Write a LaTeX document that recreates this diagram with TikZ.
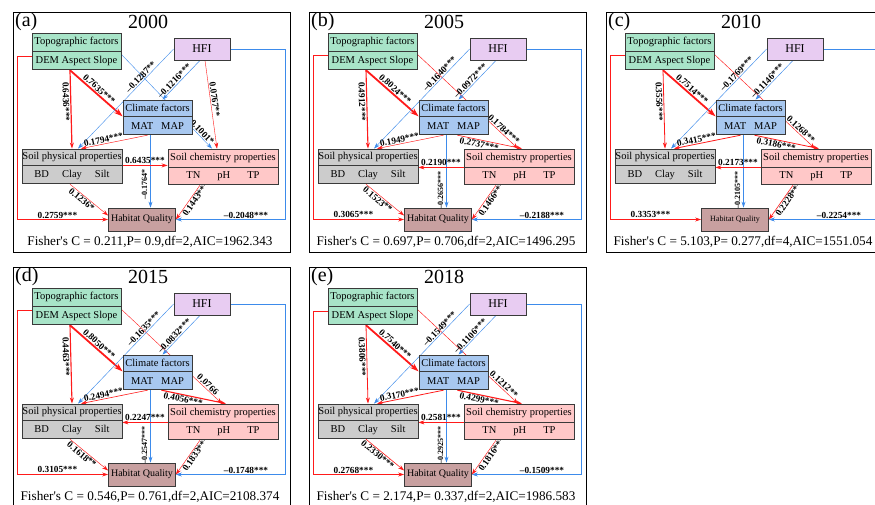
\documentclass[tikz,border=0pt]{standalone}
\usepackage{fontspec}
\setmainfont{Liberation Serif}
\usetikzlibrary{arrows.meta,calc,backgrounds}

\definecolor{topoc}{HTML}{A8E4C8}
\definecolor{hfic}{HTML}{E8CCF2}
\definecolor{climc}{HTML}{A8C8F0}
\definecolor{physc}{HTML}{CCCCCC}
\definecolor{chemc}{HTML}{FFC8C8}
\definecolor{hqc}{HTML}{C8A0A0}
\definecolor{posc}{HTML}{FF1A1A}
\definecolor{negc}{HTML}{3D8BEB}
\definecolor{boxline}{HTML}{3A3A3A}

% the six boxes of one SEM panel, #1 = font size of Habitat Quality
\newcommand{\semboxes}[1]{%
\node[headbox,fill=topoc,minimum width=89pt] (topoh) at (63.5,30) {Topographic factors};
\node[varbox,fill=topoc,minimum width=89pt,anchor=north] (topov) at (topoh.south) {DEM Aspect Slope};
\node[headbox,fill=hfic,minimum width=56pt,minimum height=22pt,font=\fontsize{12}{14}\selectfont] (hfi) at (189,37) {HFI};
\node[headbox,fill=climc,minimum width=69pt,minimum height=16pt] (climh) at (144.5,96) {Climate factors};
\node[varbox,fill=climc,minimum width=69pt,anchor=north] (climv) at (climh.south) {MAT\hspace{8pt}MAP};
\node[headbox,fill=physc,minimum width=100pt,minimum height=16pt] (physh) at (59,145) {Soil physical properties};
\node[varbox,fill=physc,minimum width=100pt,anchor=north] (physv) at (physh.south) {BD\hspace{13pt}Clay\hspace{13pt}Silt};
\node[headbox,fill=chemc,minimum width=110pt] (chemh) at (210,146) {Soil chemistry properties};
\node[varbox,fill=chemc,minimum width=110pt,minimum height=17pt,anchor=north] (chemv) at (chemh.south) {TN\hspace{17pt}pH\hspace{17pt}TP};
\node[headbox,fill=hqc,minimum width=67pt,minimum height=23pt,font=\fontsize{#1}{#1}\selectfont] (hq) at (129,207.5) {Habitat Quality};
}

\begin{document}
\begin{tikzpicture}[x=1pt,y=-1pt,>={Stealth[length=6pt,width=4pt]},
  headbox/.style={draw=boxline,line width=0.8pt,inner sep=0pt,minimum height=18pt,font=\fontsize{10.5}{12}\selectfont},
  varbox/.style={headbox,minimum height=18pt},
  panelframe/.style={draw=black,line width=1pt},
  paneltag/.style={anchor=west,inner sep=0pt,font=\fontsize{20}{22}\selectfont},
  yeartext/.style={font=\fontsize{20}{22}\selectfont},
  fishertext/.style={font=\fontsize{13.2}{15}\selectfont},
  lbl/.style={font=\bfseries\fontsize{9.3}{10}\selectfont,inner sep=1pt},
  vlbl/.style={lbl,font=\bfseries\fontsize{8}{9}\selectfont,rotate=90,anchor=south,inner sep=3pt},
  posarr/.style={->,draw=posc,line width=#1}, posarr/.default=0.6pt,
  negarr/.style={->,draw=negc,line width=#1}, negarr/.default=0.6pt,
  bigarr/.style={->,>={Stealth[length=9pt,width=6pt]},draw=posc,line width=1.8pt}]
\useasboundingbox (0,0) rectangle (875,504);
\begin{scope}[on background layer]
\fill[white] (0,0) rectangle (875,504);
\end{scope}

% (a) 2000
\begin{scope}[shift={(13,12)},name prefix=a-]
\draw[panelframe] (0,0) rectangle (277,240);
\node[paneltag] (tag) at (2,10) {(a)};
\node[yeartext] (year) at (135,10) {2000};
\semboxes{10}
\node[fishertext] (fisher) at (137,230) {Fisher\textquotesingle s C = 0.211,P= 0.9,df=2,AIC=1962.343};
\begin{scope}[on background layer]
\draw[bigarr] ([xshift=-6.5pt]topov.south) -- node[lbl,sloped,above,pos=0.49] {0.7635***} (climh.south west);
\draw[posarr=1.2pt] ([xshift=-6.5pt]topov.south) -- node[lbl,sloped,below,pos=0.4] {0.6436***} (physh.north);
\draw[posarr=0.6pt] ([yshift=5pt]topov.west) -- ++(-14,0) |- node[lbl,above,pos=0.72] {0.2759***} (hq.west);
\draw[negarr=0.4pt] ([yshift=-3pt]topov.north east) -- node[lbl,sloped,above,pos=0.84] {--0.1001*} ([xshift=-11pt]chemh.north);
\draw[negarr=0.5pt] ([xshift=-2pt]hfi.south) -- node[lbl,sloped,above,pos=0.6] {--0.1216***} ([xshift=5pt]climh.north);
\draw[negarr=0.4pt] (hfi.west) -- node[lbl,sloped,above,pos=0.31] {--0.1287**} ([xshift=6pt]physh.north);
\draw[posarr=0.4pt] ([xshift=3pt]hfi.south) -- node[lbl,sloped,above,pos=0.45] {0.0767**} ([xshift=-6pt]chemh.north);
\draw[negarr=0.6pt] (hfi.east) -- ++(55,0) |- node[lbl,above,pos=0.68] {--0.2048***} (hq.east);
\draw[posarr=0.45pt] ([xshift=-10pt]climv.south) -- node[lbl,sloped,above,pos=0.65] {0.1794***} ([xshift=9pt]physh.north);
\draw[negarr=0.45pt] ($(climv.south)+(-7,0)$) -- node[vlbl,pos=0.68] {--0.1764*} ($(climv.south|-hq.north)+(-7,0)$);
\draw[posarr=1.2pt] (physh.south east) -- node[lbl,above] {0.6435***} (physh.south east-|chemh.west);
\draw[posarr=0.4pt] ([xshift=-2pt]physv.south) -- node[lbl,sloped,below,pos=0.38] {0.1236*} ([yshift=4pt]hq.west);
\draw[posarr=0.45pt] ([xshift=-23pt]chemv.south) -- node[lbl,sloped,below,pos=0.33] {0.1443***} (hq.east);
\end{scope}
\end{scope}

% (b) 2005
\begin{scope}[shift={(309,12)},name prefix=b-]
\draw[panelframe] (0,0) rectangle (277,240);
\node[paneltag] (tag) at (2,10) {(b)};
\node[yeartext] (year) at (135,10) {2005};
\semboxes{10}
\node[fishertext] (fisher) at (137,230) {Fisher\textquotesingle s C = 0.697,P= 0.706,df=2,AIC=1496.295};
\begin{scope}[on background layer]
\draw[bigarr] ([xshift=-6.5pt]topov.south) -- node[lbl,sloped,above,pos=0.49] {0.8024***} (climh.south west);
\draw[posarr=1.1pt] ([xshift=-6.5pt]topov.south) -- node[lbl,sloped,below,pos=0.4] {0.4912***} (physh.north);
\draw[posarr=0.8pt] ([yshift=5pt]topov.west) -- ++(-14,0) |- node[lbl,above,pos=0.72] {0.3065***} (hq.west);
\draw[posarr=0.45pt] ([yshift=-3pt]topov.north east) -- node[lbl,sloped,above,pos=0.83] {0.1784***} ([xshift=-1pt]chemh.north);
\draw[negarr=0.45pt] ([xshift=-2pt]hfi.south) -- node[lbl,sloped,above,pos=0.6] {--0.0972***} ([xshift=5pt]climh.north);
\draw[negarr=0.45pt] (hfi.west) -- node[lbl,sloped,above,pos=0.28] {--0.1640***} ([xshift=6pt]physh.north);
\draw[negarr=0.6pt] (hfi.east) -- ++(55,0) |- node[lbl,above,pos=0.68] {--0.2188***} (hq.east);
\draw[posarr=0.45pt] ([xshift=-10pt]climv.south) -- node[lbl,sloped,above,pos=0.65] {0.1949***} ([xshift=9pt]physh.north);
\draw[posarr=0.6pt] ([xshift=4pt]climv.south) -- node[lbl,sloped,below,pos=0.35] {0.2737***} ([xshift=3pt]chemh.north);
\draw[negarr=0.6pt] ($(climv.south)+(-7,0)$) -- node[vlbl,pos=0.76] {--0.2656***} ($(climv.south|-hq.north)+(-7,0)$);
\draw[posarr=0.6pt] (chemh.south west) -- node[lbl,above] {0.2190***} (chemh.south west-|physh.east);
\draw[posarr=0.45pt] ([xshift=-2pt]physv.south) -- node[lbl,sloped,below,pos=0.38] {0.1523**} ([yshift=4pt]hq.west);
\draw[posarr=0.45pt] ([xshift=-23pt]chemv.south) -- node[lbl,sloped,below,pos=0.33] {0.1466***} (hq.east);
\end{scope}
\end{scope}

% (c) 2010
\begin{scope}[shift={(606,12)},name prefix=c-]
\draw[panelframe] (0,0) rectangle (277,240);
\node[paneltag] (tag) at (2,10) {(c)};
\node[yeartext] (year) at (135,10) {2010};
\semboxes{8}
\node[fishertext] (fisher) at (137,230) {Fisher\textquotesingle s C = 5.103,P= 0.277,df=4,AIC=1551.054};
\begin{scope}[on background layer]
\draw[bigarr] ([xshift=-6.5pt]topov.south) -- node[lbl,sloped,above,pos=0.49] {0.7514***} (climh.south west);
\draw[posarr=0.8pt] ([xshift=-6.5pt]topov.south) -- node[lbl,sloped,below,pos=0.4] {0.3556***} (physh.north);
\draw[posarr=0.8pt] ([yshift=5pt]topov.west) -- ++(-14,0) |- node[lbl,above,pos=0.72] {0.3353***} (hq.west);
\draw[posarr=0.45pt] ([yshift=-3pt]topov.north east) -- node[lbl,sloped,above,pos=0.83] {0.1268**} ([xshift=-1pt]chemh.north);
\draw[negarr=0.45pt] ([xshift=-2pt]hfi.south) -- node[lbl,sloped,above,pos=0.6] {--0.1146***} ([xshift=5pt]climh.north);
\draw[negarr=0.45pt] (hfi.west) -- node[lbl,sloped,above,pos=0.28] {--0.1769***} ([xshift=6pt]physh.north);
\draw[negarr=0.6pt] (hfi.east) -- ++(55,0) |- node[lbl,above,pos=0.68] {--0.2254***} (hq.east);
\draw[posarr=0.8pt] ([xshift=-10pt]climv.south) -- node[lbl,sloped,above,pos=0.65] {0.3415***} ([xshift=9pt]physh.north);
\draw[posarr=0.8pt] ([xshift=4pt]climv.south) -- node[lbl,sloped,below,pos=0.35] {0.3186***} ([xshift=3pt]chemh.north);
\draw[negarr=0.6pt] ($(climv.south)+(-7,0)$) -- node[vlbl,pos=0.76] {--0.2105***} ($(climv.south|-hq.north)+(-7,0)$);
\draw[posarr=0.6pt] (chemh.south west) -- node[lbl,above] {0.2173***} (chemh.south west-|physh.east);
\draw[posarr=0.6pt] ([xshift=-23pt]chemv.south) -- node[lbl,sloped,below,pos=0.33] {0.2228***} (hq.east);
\end{scope}
\end{scope}

% (d) 2015
\begin{scope}[shift={(13,267)},name prefix=d-]
\draw[panelframe] (0,0) rectangle (277,240);
\node[paneltag] (tag) at (2,10) {(d)};
\node[yeartext] (year) at (135,10) {2015};
\semboxes{10}
\node[fishertext] (fisher) at (137,230) {Fisher\textquotesingle s C = 0.546,P= 0.761,df=2,AIC=2108.374};
\begin{scope}[on background layer]
\draw[bigarr] ([xshift=-6.5pt]topov.south) -- node[lbl,sloped,above,pos=0.49] {0.8050***} (climh.south west);
\draw[posarr=1.1pt] ([xshift=-6.5pt]topov.south) -- node[lbl,sloped,below,pos=0.4] {0.4463***} (physh.north);
\draw[posarr=0.8pt] ([yshift=5pt]topov.west) -- ++(-14,0) |- node[lbl,above,pos=0.72] {0.3105***} (hq.west);
\draw[posarr=0.4pt] ([yshift=-3pt]topov.north east) -- node[lbl,sloped,above,pos=0.83] {0.0766} ([xshift=-1pt]chemh.north);
\draw[negarr=0.45pt] ([xshift=-2pt]hfi.south) -- node[lbl,sloped,above,pos=0.6] {--0.0832***} ([xshift=5pt]climh.north);
\draw[negarr=0.45pt] (hfi.west) -- node[lbl,sloped,above,pos=0.28] {--0.1635***} ([xshift=6pt]physh.north);
\draw[negarr=0.45pt] (hfi.east) -- ++(55,0) |- node[lbl,above,pos=0.68] {--0.1748***} (hq.east);
\draw[posarr=0.6pt] ([xshift=-10pt]climv.south) -- node[lbl,sloped,above,pos=0.65] {0.2494***} ([xshift=9pt]physh.north);
\draw[posarr=1.1pt] ([xshift=4pt]climv.south) -- node[lbl,sloped,below,pos=0.35] {0.4056***} ([xshift=3pt]chemh.north);
\draw[negarr=0.6pt] ($(climv.south)+(-7,0)$) -- node[vlbl,pos=0.76] {--0.2547***} ($(climv.south|-hq.north)+(-7,0)$);
\draw[posarr=0.6pt] (chemh.south west) -- node[lbl,above] {0.2247***} (chemh.south west-|physh.east);
\draw[posarr=0.45pt] ([xshift=-2pt]physv.south) -- node[lbl,sloped,below,pos=0.38] {0.1618**} ([yshift=4pt]hq.west);
\draw[posarr=0.45pt] ([xshift=-23pt]chemv.south) -- node[lbl,sloped,below,pos=0.33] {0.1833***} (hq.east);
\end{scope}
\end{scope}

% (e) 2018
\begin{scope}[shift={(309,267)},name prefix=e-]
\draw[panelframe] (0,0) rectangle (277,240);
\node[paneltag] (tag) at (2,10) {(e)};
\node[yeartext] (year) at (135,10) {2018};
\semboxes{10}
\node[fishertext] (fisher) at (137,230) {Fisher\textquotesingle s C = 2.174,P= 0.337,df=2,AIC=1986.583};
\begin{scope}[on background layer]
\draw[bigarr] ([xshift=-6.5pt]topov.south) -- node[lbl,sloped,above,pos=0.49] {0.7540***} (climh.south west);
\draw[posarr=0.8pt] ([xshift=-6.5pt]topov.south) -- node[lbl,sloped,below,pos=0.4] {0.3806***} (physh.north);
\draw[posarr=0.6pt] ([yshift=5pt]topov.west) -- ++(-14,0) |- node[lbl,above,pos=0.72] {0.2768***} (hq.west);
\draw[posarr=0.45pt] ([yshift=-3pt]topov.north east) -- node[lbl,sloped,above,pos=0.83] {0.1212**} ([xshift=-1pt]chemh.north);
\draw[negarr=0.45pt] ([xshift=-2pt]hfi.south) -- node[lbl,sloped,above,pos=0.6] {--0.1106***} ([xshift=5pt]climh.north);
\draw[negarr=0.45pt] (hfi.west) -- node[lbl,sloped,above,pos=0.28] {--0.1549***} ([xshift=6pt]physh.north);
\draw[negarr=0.45pt] (hfi.east) -- ++(55,0) |- node[lbl,above,pos=0.68] {--0.1509***} (hq.east);
\draw[posarr=0.8pt] ([xshift=-10pt]climv.south) -- node[lbl,sloped,above,pos=0.65] {0.3170***} ([xshift=9pt]physh.north);
\draw[posarr=1.1pt] ([xshift=4pt]climv.south) -- node[lbl,sloped,below,pos=0.35] {0.4299***} ([xshift=3pt]chemh.north);
\draw[negarr=0.6pt] ($(climv.south)+(-7,0)$) -- node[vlbl,pos=0.76] {--0.2925***} ($(climv.south|-hq.north)+(-7,0)$);
\draw[posarr=0.6pt] (chemh.south west) -- node[lbl,above] {0.2581***} (chemh.south west-|physh.east);
\draw[posarr=0.6pt] ([xshift=-2pt]physv.south) -- node[lbl,sloped,below,pos=0.38] {0.2330***} ([yshift=4pt]hq.west);
\draw[posarr=0.45pt] ([xshift=-23pt]chemv.south) -- node[lbl,sloped,below,pos=0.33] {0.1816***} (hq.east);
\end{scope}
\end{scope}
\end{tikzpicture}
\end{document}
